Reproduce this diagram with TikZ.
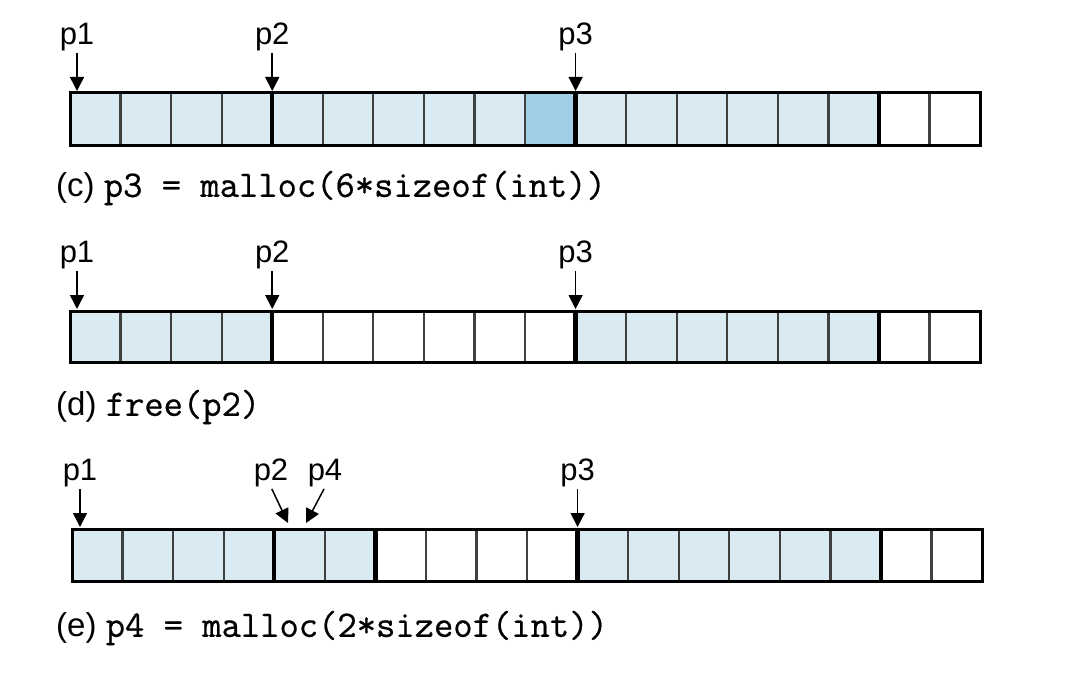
\documentclass[tikz,border=0pt]{standalone}
\usepackage{fontspec}
\setmainfont{Liberation Sans}
\newfontfamily\codefont{Latin Modern Mono}[FakeBold=0.6]
\usetikzlibrary{arrows.meta}
\definecolor{cellblue}{RGB}{218,234,242}
\definecolor{padblue}{RGB}{160,206,228}
\newcommand{\cw}{50.56}
\newcommand{\code}[1]{{\codefont\fontsize{37.5}{39}\selectfont #1}}
\tikzset{
  cell/.style={draw=black!75,line width=2.2pt},
  sep/.style={draw=black,line width=4.5pt},
  frame/.style={draw=black,line width=3pt},
  ptr/.style={-{Triangle[length=14pt,width=14pt]},line width=1.5pt,shorten <=2pt},
  plabel/.style={font=\fontsize{31}{33}\selectfont,inner sep=0pt},
  caption/.style={font=\fontsize{33}{35}\selectfont,anchor=west,inner sep=0pt},
}
\begin{document}
\begin{tikzpicture}[x=1pt,y=-1pt]
  \useasboundingbox (0,0) rectangle (1086,674);

  % (c) p3 = malloc
  \fill[cellblue] (70,93) rectangle (70+16*\cw,145);
  \fill[padblue] (70+9*\cw,93) rectangle (70+10*\cw,145);
  \foreach \i in {1,...,17} \draw[cell] (70+\i*\cw,93) -- ++(0,52);
  \foreach \i in {4,10,16} \draw[sep] (70+\i*\cw,93) -- ++(0,52);
  \draw[frame] (70,93) rectangle (70+18*\cw,145);
  \node[plabel] (p1c) at (77,37) {p1};
  \node[plabel] (p2c) at (70+4*\cw,37) {p2};
  \node[plabel] (p3c) at (70+10*\cw,37) {p3};
  \coordinate (t1c) at (77,91);
  \coordinate (t2c) at (70+4*\cw,91);
  \coordinate (t3c) at (70+10*\cw,91);
  \draw[ptr] (p1c.south) -- (t1c);
  \draw[ptr] (p2c.south) -- (t2c);
  \draw[ptr] (p3c.south) -- (t3c);
  \node[caption] (capc) at (56,188) {(c) \code{p3 = malloc(6*sizeof(int))}};

  % (d) free(p2)
  \fill[cellblue] (70,311) rectangle (70+4*\cw,362);
  \fill[cellblue] (70+10*\cw,311) rectangle (70+16*\cw,362);
  \foreach \i in {1,...,17} \draw[cell] (70+\i*\cw,311) -- ++(0,51);
  \foreach \i in {4,10,16} \draw[sep] (70+\i*\cw,311) -- ++(0,51);
  \draw[frame] (70,311) rectangle (70+18*\cw,362);
  \node[plabel] (p1d) at (77,255) {p1};
  \node[plabel] (p2d) at (70+4*\cw,255) {p2};
  \node[plabel] (p3d) at (70+10*\cw,255) {p3};
  \coordinate (t1d) at (77,309);
  \coordinate (t2d) at (70+4*\cw,309);
  \coordinate (t3d) at (70+10*\cw,309);
  \draw[ptr] (p1d.south) -- (t1d);
  \draw[ptr] (p2d.south) -- (t2d);
  \draw[ptr] (p3d.south) -- (t3d);
  \node[caption] (capd) at (56,407) {(d) \code{free(p2)}};

  % (e) p4 = malloc
  \fill[cellblue] (72,529) rectangle (72+6*\cw,581);
  \fill[cellblue] (72+10*\cw,529) rectangle (72+16*\cw,581);
  \foreach \i in {1,...,17} \draw[cell] (72+\i*\cw,529) -- ++(0,52);
  \foreach \i in {4,6,10,16} \draw[sep] (72+\i*\cw,529) -- ++(0,52);
  \draw[frame] (72,529) rectangle (72+18*\cw,581);
  \node[plabel] (p1e) at (80,473) {p1};
  \node[plabel] (p2e) at (271,473) {p2};
  \node[plabel] (p4e) at (325,473) {p4};
  \node[plabel] (p3e) at (72+10*\cw,473) {p3};
  \coordinate (t1e) at (80,527);
  \coordinate (t2e) at (288,523);
  \coordinate (t4e) at (306,523);
  \coordinate (t3e) at (72+10*\cw,527);
  \draw[ptr] (p1e.south) -- (t1e);
  \draw[ptr] (p2e.south) -- (t2e);
  \draw[ptr] (p4e.south) -- (t4e);
  \draw[ptr] (p3e.south) -- (t3e);
  \node[caption] (cape) at (56,628) {(e) \code{p4 = malloc(2*sizeof(int))}};
\end{tikzpicture}
\end{document}
